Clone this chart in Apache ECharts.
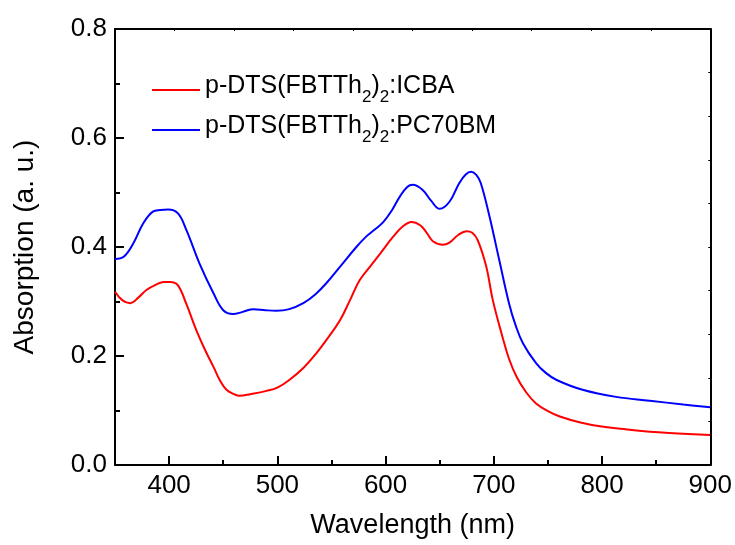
<!DOCTYPE html>
<html>
<head>
<meta charset="utf-8">
<script src="https://cdn.jsdelivr.net/npm/echarts@6/dist/echarts.min.js"></script>
<style>
  body { margin: 0; background: #fff; }
  #chart { width: 735px; height: 545px; }
</style>
</head>
<body>
<div id="chart"></div>
<script>
// values
const wlIcba = [350, 357, 364, 372, 379, 388, 395, 401, 408, 416, 425, 433, 441, 447, 453, 460, 465, 475, 490, 500,
  511, 524, 536, 547, 558, 567, 576, 586, 595, 607, 616, 624, 632, 638, 644, 653, 659, 667, 675, 680,
  685, 693, 699, 708, 714, 721, 730, 739, 750, 761, 780, 798, 820, 844, 870, 900]
const absIcba = [0.318, 0.302, 0.297, 0.308, 0.321, 0.331, 0.336, 0.336, 0.330, 0.295, 0.248, 0.212, 0.180, 0.155, 0.138, 0.130, 0.127, 0.130, 0.136, 0.142,
  0.156, 0.178, 0.205, 0.234, 0.266, 0.302, 0.339, 0.365, 0.388, 0.419, 0.438, 0.446, 0.440, 0.426, 0.410, 0.404, 0.408, 0.422, 0.429, 0.426,
  0.413, 0.364, 0.303, 0.235, 0.195, 0.162, 0.133, 0.113, 0.099, 0.089, 0.078, 0.071, 0.066, 0.061, 0.058, 0.055]

const wlPcbm = [350, 358, 367, 376, 385, 392, 399, 408, 416, 428, 441, 450, 459, 468, 478, 489, 499, 511, 524, 535,
  545, 558, 573, 582, 590, 598, 606, 613, 620, 625, 634, 642, 650, 659, 668, 674, 679, 684, 688, 696,
  705, 714, 720, 727, 739, 748, 758, 782, 813, 844, 875, 900]
const absPcbm = [0.378, 0.382, 0.407, 0.443, 0.465, 0.468, 0.469, 0.462, 0.431, 0.370, 0.315, 0.284, 0.277, 0.281, 0.286, 0.284, 0.283, 0.286, 0.297, 0.313,
  0.333, 0.364, 0.400, 0.419, 0.432, 0.446, 0.468, 0.492, 0.510, 0.514, 0.505, 0.485, 0.470, 0.483, 0.517, 0.533, 0.538, 0.532, 0.517, 0.456,
  0.376, 0.297, 0.257, 0.223, 0.187, 0.169, 0.156, 0.138, 0.125, 0.118, 0.111, 0.106]

const xMajor = [400, 500, 600, 700, 800, 900]
const xMinor = [450, 550, 650, 750, 850]
const xTopTicks = [350, 405, 460, 515, 570, 625, 680, 735, 790, 845, 900]
const yRightTicks = [0, 0.08, 0.16, 0.24, 0.32, 0.4, 0.48, 0.56, 0.64, 0.72, 0.8]

const font = 'Liberation Sans, Arial, sans-serif'
const black = '#000'

function pairs(xs, ys) {
  return xs.map((x, i) => [x, ys[i]])
}

const chart = echarts.init(document.getElementById('chart'))
chart.setOption({
  animation: false,
  grid: { left: 115, top: 29, right: 24, bottom: 80 },
  legend: {
    orient: 'vertical',
    left: 147,
    top: 69,
    icon: 'rect',
    itemWidth: 48,
    itemHeight: 2,
    itemGap: 8,
    formatter: function (name) {
      return name === 'icba'
        ? '{n|p-DTS(FBTTh}{s|2}{n|)}{s|2}{n|:ICBA}'
        : '{n|p-DTS(FBTTh}{s|2}{n|)}{s|2}{n|:PC70BM}'
    },
    textStyle: {
      fontFamily: font,
      color: black,
      rich: {
        n: { fontSize: 25, lineHeight: 32, fontFamily: font, color: black, verticalAlign: 'top' },
        s: { fontSize: 17, lineHeight: 18, fontFamily: font, color: black, verticalAlign: 'bottom' }
      }
    }
  },
  xAxis: [
    {
      type: 'value',
      min: 350,
      max: 900,
      position: 'bottom',
      axisLine: { lineStyle: { color: black, width: 2 } },
      axisTick: { inside: true, length: 9, customValues: xMajor, lineStyle: { color: black, width: 2 } },
      axisLabel: { customValues: xMajor, fontSize: 26, fontFamily: font, color: black, margin: 8 },
      splitLine: { show: false },
      name: 'Wavelength (nm)',
      nameLocation: 'middle',
      nameGap: 47,
      nameTextStyle: { fontSize: 27, fontFamily: font, color: black }
    },
    {
      type: 'value',
      min: 350,
      max: 900,
      position: 'bottom',
      axisLine: { show: false },
      axisTick: { inside: true, length: 5, customValues: xMinor, lineStyle: { color: black, width: 2 } },
      axisLabel: { show: false },
      splitLine: { show: false }
    },
    {
      type: 'value',
      min: 350,
      max: 900,
      position: 'top',
      axisLine: { lineStyle: { color: black, width: 2 } },
      axisTick: { inside: true, length: 2, customValues: xTopTicks, lineStyle: { color: black, width: 1 } },
      axisLabel: { show: false },
      splitLine: { show: false }
    }
  ],
  yAxis: [
    {
      type: 'value',
      min: 0,
      max: 0.8,
      interval: 0.2,
      position: 'left',
      axisLine: { show: true, lineStyle: { color: black, width: 2 } },
      axisTick: { show: true, inside: true, length: 9, lineStyle: { color: black, width: 2 } },
      minorTick: { show: true, splitNumber: 2, length: 5, lineStyle: { color: black, width: 2 } },
      axisLabel: {
        fontSize: 26, fontFamily: font, color: black, margin: 8,
        formatter: v => v.toFixed(1)
      },
      splitLine: { show: false },
      name: 'Absorption (a. u.)',
      nameLocation: 'middle',
      nameGap: 76,
      nameTextStyle: { fontSize: 28, fontFamily: font, color: black }
    },
    {
      type: 'value',
      min: 0,
      max: 0.8,
      position: 'right',
      axisLine: { show: true, lineStyle: { color: black, width: 2 } },
      axisTick: { show: true, inside: true, length: 2, customValues: yRightTicks, lineStyle: { color: black, width: 1 } },
      axisLabel: { show: false },
      splitLine: { show: false }
    }
  ],
  series: [
    {
      name: 'icba',
      type: 'line',
      smooth: 0.4,
      symbol: 'none',
      data: pairs(wlIcba, absIcba),
      lineStyle: { color: '#ff0000', width: 2 },
      itemStyle: { color: '#ff0000' }
    },
    {
      name: 'pcbm',
      type: 'line',
      smooth: 0.4,
      symbol: 'none',
      data: pairs(wlPcbm, absPcbm),
      lineStyle: { color: '#0000ff', width: 2 },
      itemStyle: { color: '#0000ff' }
    }
  ]
})
</script>
</body>
</html>
